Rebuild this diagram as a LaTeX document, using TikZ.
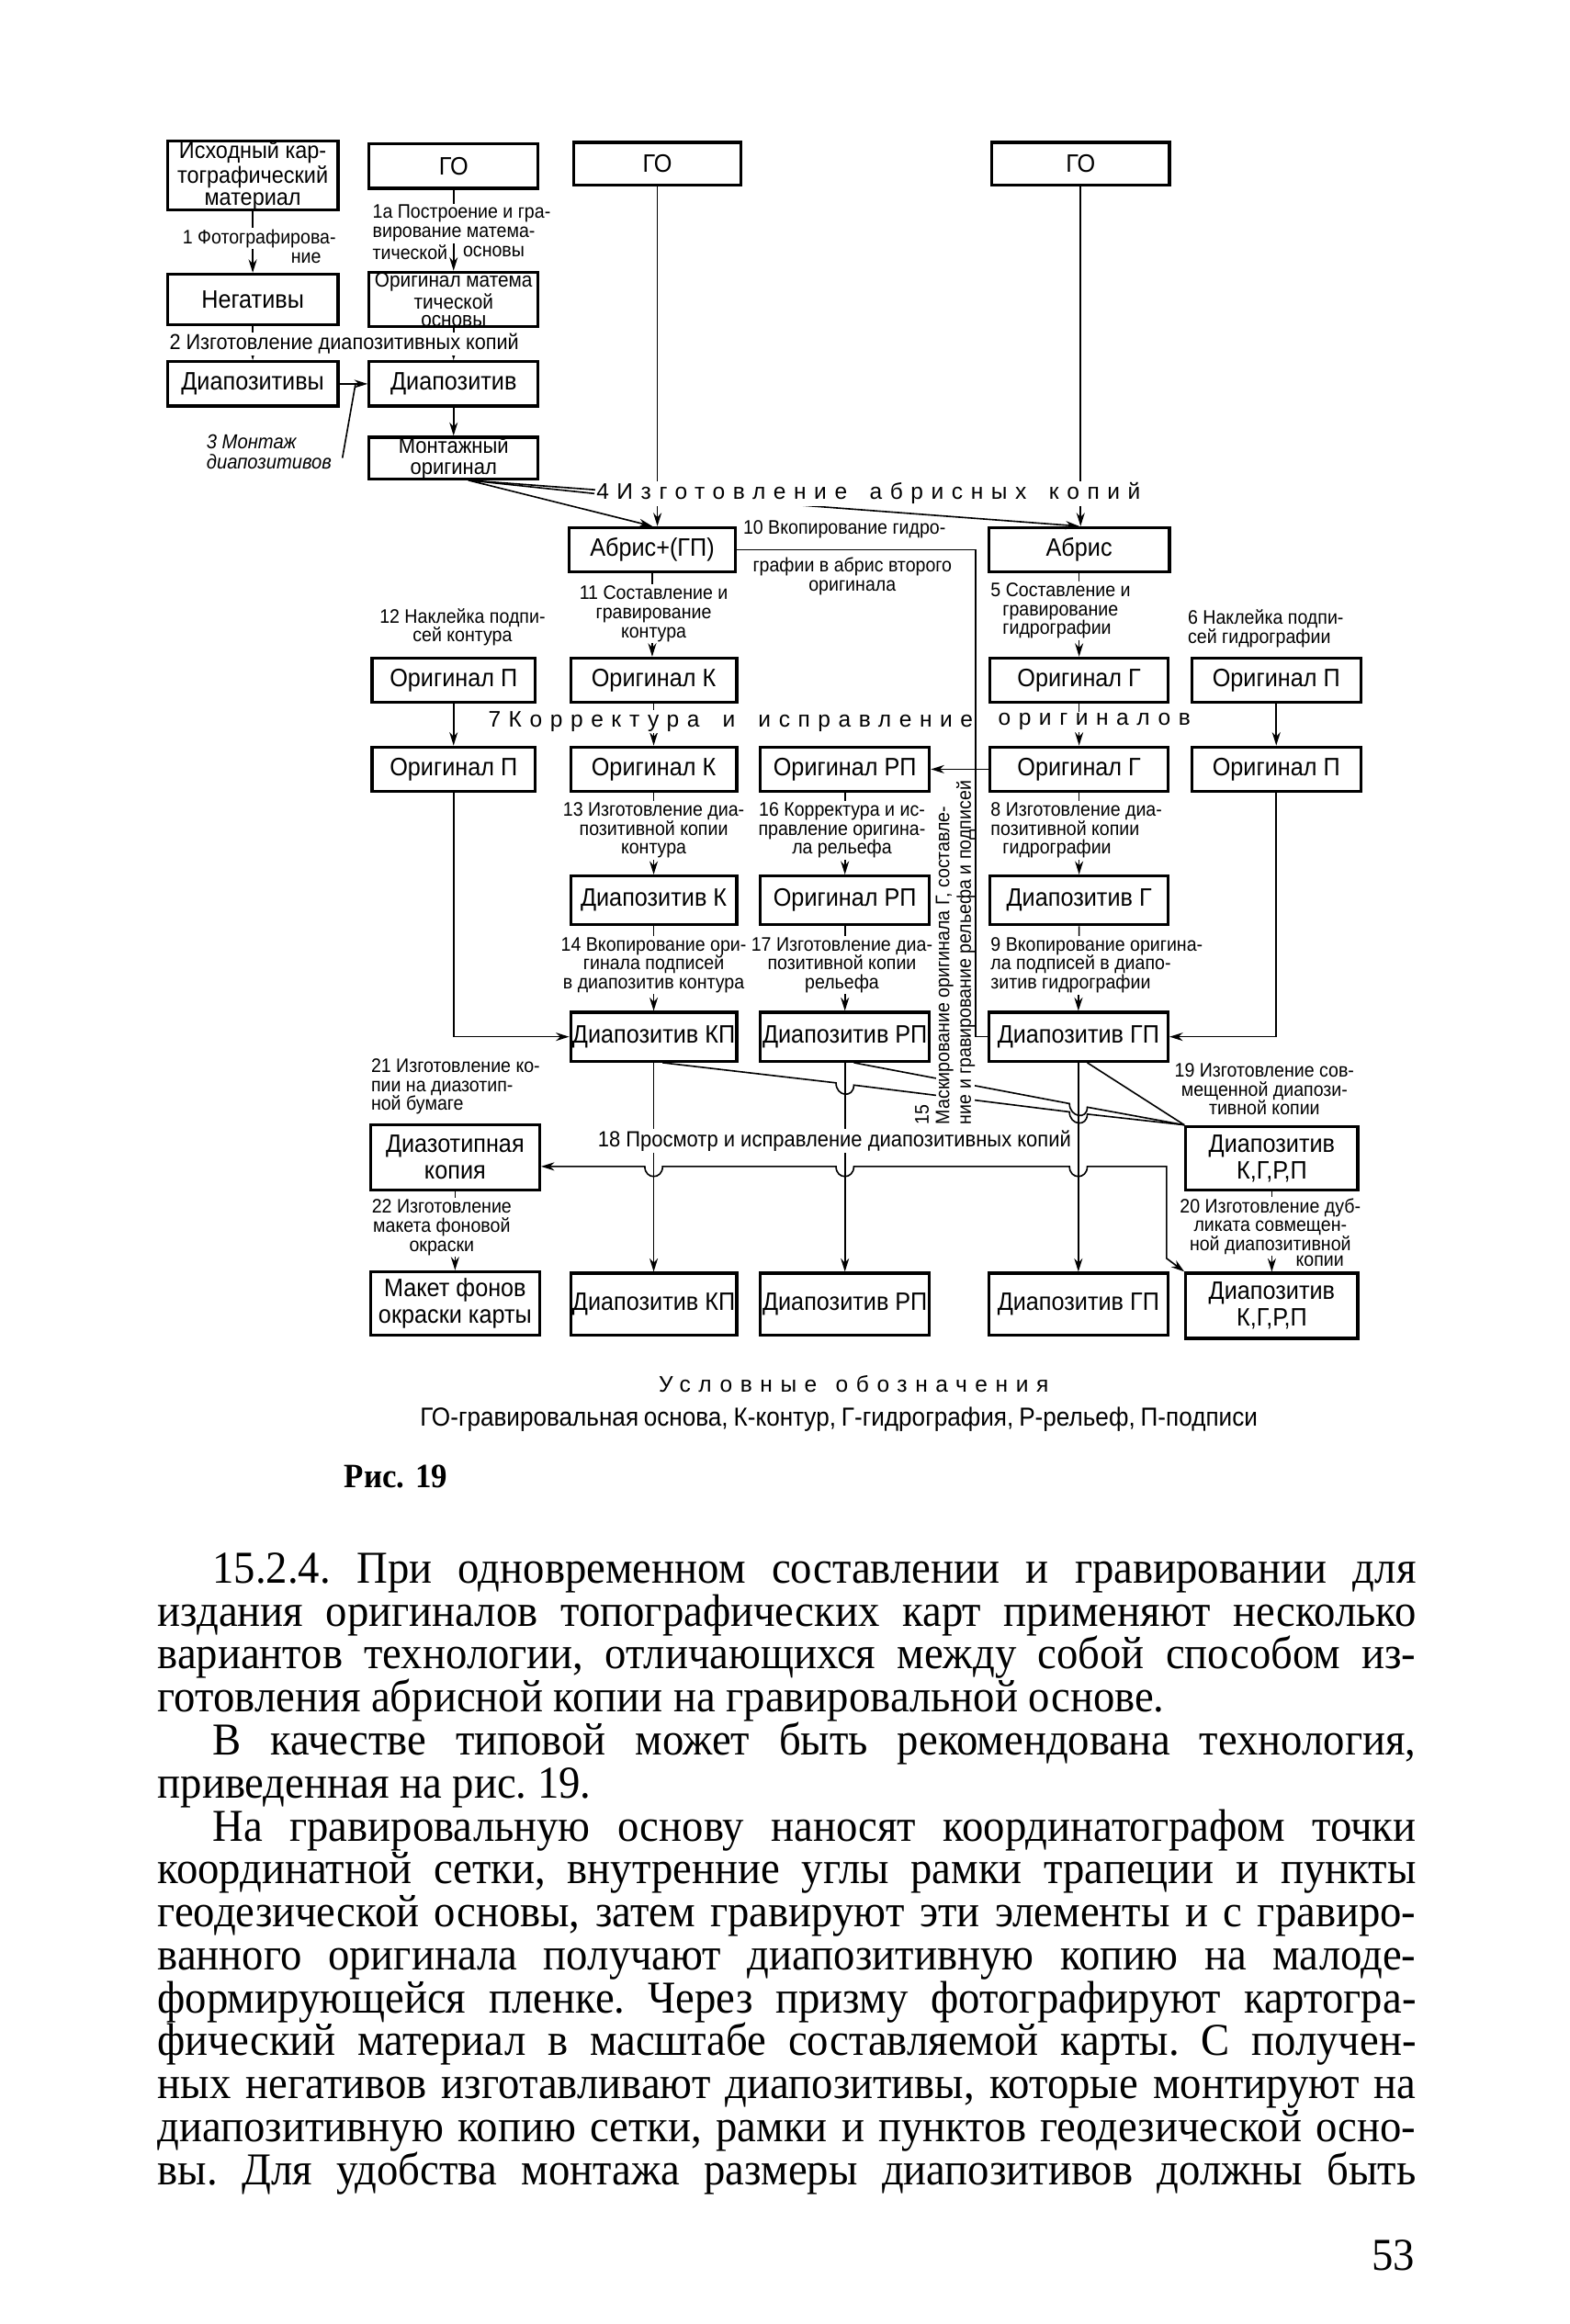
\documentclass[tikz,border=0pt]{standalone}
\usepackage{fontspec}
\setmainfont{Liberation Serif}
\newfontfamily\dgf[FakeStretch=0.92]{Liberation Sans}
\newfontfamily\spf[LetterSpace=35]{Liberation Sans}
\newfontfamily\bdf[FakeStretch=0.94]{Liberation Serif}
\usetikzlibrary{arrows.meta,calc}
\tikzset{
  box/.style={draw, line width=1pt, inner sep=0pt, align=center, font=\dgf\fontsize{8.5}{9}\selectfont},
  lab/.style={inner sep=0.5pt, fill=white, font=\dgf\fontsize{6.6}{6.4}\selectfont},
  sp/.style={inner sep=0.5pt, fill=white, font=\spf\fontsize{7.6}{8}\selectfont},
  con/.style={line width=0.5pt},
  arr/.style={con, -{Stealth[length=4.5pt,width=2.8pt]}},
  dbl/.style={con, {Stealth[length=4.5pt,width=2.8pt]}-{Stealth[length=4.5pt,width=2.8pt]}},
  body/.style={inner sep=0pt, font=\bdf\frenchspacing\fontsize{15.4}{14.5}\selectfont},
}
\newcommand\bx[6][]{\node[box,#1,minimum width={(#5-#3)*0.5pt},minimum height={(#6-#4)*0.5pt}] (#2) at ({(#3+#5)/2},{(#4+#6)/2})}
\newcommand\jl[5]{\node[body, anchor=base west] (#1) at (#2,#3) {\makebox[#4pt][s]{#5}};}
\begin{document}
\begin{tikzpicture}[x=0.5pt,y=-0.5pt]
\useasboundingbox (0,0) rectangle (1059,1568);
% ---------- boxes ----------
\bx[font=\dgf\fontsize{7.9}{7.3}\selectfont]{src}{113}{96}{228}{141}{Исходный кар-\\тографический\\материал};
\bx{go1}{249}{97}{363}{127}{ГО};
\bx{go2}{387}{96}{500}{125}{ГО};
\bx{go3}{669}{96}{789}{125}{ГО};
\bx{neg}{113}{185}{228}{219}{Негативы};
\bx[font=\dgf\fontsize{7}{5.8}\selectfont]{omo}{249}{185}{363}{219}{Оригинал матема\\тической\\основы};
\bx{dps}{113}{244}{228}{274}{Диапозитивы};
\bx{dp}{249}{244}{363}{274}{Диапозитив};
\bx[font=\dgf\fontsize{7.4}{7}\selectfont]{mo}{249}{295}{363}{323}{Монтажный\\оригинал};
\bx{ab1}{384}{356}{496}{386}{Абрис+(ГП)};
\bx{ab2}{667}{356}{789}{386}{Абрис};
\bx{opl1}{251}{444}{361}{474}{Оригинал П};
\bx{ok1}{385}{444}{497}{474}{Оригинал К};
\bx{og1}{668}{444}{788}{474}{Оригинал Г};
\bx{opr1}{804}{444}{918}{474}{Оригинал П};
\bx{opl2}{251}{504}{361}{534}{Оригинал П};
\bx{ok2}{385}{504}{497}{534}{Оригинал К};
\bx{orp2}{513}{504}{627}{534}{Оригинал РП};
\bx{og2}{668}{504}{788}{534}{Оригинал Г};
\bx{opr2}{804}{504}{918}{534}{Оригинал П};
\bx{dk}{385}{591}{497}{624}{Диапозитив К};
\bx{orp3}{513}{591}{627}{624}{Оригинал РП};
\bx{dg}{668}{591}{788}{624}{Диапозитив Г};
\bx{dkp}{385}{683}{497}{716}{Диапозитив КП};
\bx{drp}{513}{683}{627}{716}{Диапозитив РП};
\bx{dgp}{667}{683}{788}{716}{Диапозитив ГП};
\bx{dz}{250}{759}{364}{803}{Диазотипная\\копия};
\bx{kg1}{800}{760}{916}{803}{Диапозитив\\К,Г,Р,П};
\bx{mk}{250}{858}{364}{901}{Макет фонов\\окраски карты};
\bx{dkp2}{385}{859}{497}{901}{Диапозитив КП};
\bx{drp2}{513}{859}{627}{901}{Диапозитив РП};
\bx{dgp2}{667}{859}{788}{901}{Диапозитив ГП};
\bx{kg2}{800}{859}{916}{903}{Диапозитив\\К,Г,Р,П};
% ---------- connectors ----------
\draw[arr] (src.south) -- (neg.north);
\draw[arr] (go1.south) -- (omo.north);
\draw[arr] (neg.south) -- (dps.north);
\draw[arr] (omo.south) -- (dp.north);
\draw[arr] (dps.east) -- (dp.west);
\coordinate (j3) at ($(dps.east)!0.57!(dp.west)$);
\coordinate (m3) at (231,309);
\draw[con] (m3) -- (j3);
\draw[arr] (dp.south) -- (mo.north);
\coordinate (mos) at ($(mo.south)+(10,0)$);
\coordinate (l4w) at (401,333);
\draw[con] (mos) -- (l4w);
\draw[arr] (mos) -- (ab1.north);
\draw[arr] (mos) -- (ab2.north);
\draw[arr] (go2.south) -- (go2.south |- ab1.north);
\draw[arr] (go3.south) -- (go3.south |- ab2.north);
\draw[arr] (ab1.south) -- (ab1.south |- ok1.north);
\draw[arr] (ab2.south) -- (ab2.south |- og1.north);
\draw[con] (ab1.east) -| ($(dgp.west)+(-8,0)$) -- (dgp.west);
\draw[arr] (og2.west) -- (orp2.east);
\draw[arr] (opl1.south) -- (opl2.north);
\draw[arr] (ok1.south) -- (ok2.north);
\draw[arr] (og1.south) -- (og2.north);
\draw[arr] (opr1.south) -- (opr2.north);
\draw[arr] (ok2.south) -- (dk.north);
\draw[arr] (orp2.south) -- (orp3.north);
\draw[arr] (og2.south) -- (dg.north);
\draw[arr] (dk.south) -- (dkp.north);
\draw[arr] (orp3.south) -- (drp.north);
\draw[arr] (dg.south) -- (dgp.north);
\draw[arr] (opl2.south) |- (dkp.west);
\draw[arr] (opr2.south) |- (dgp.east);
\draw[arr] (dkp.south) -- (dkp2.north);
\draw[arr] (drp.south) -- (drp2.north);
\draw[arr] (dgp.south) -- (dgp2.north);
\draw[arr] (kg1.south) -- (kg2.north);
\draw[arr] (dz.south) -- (mk.north);
% lines of step 19 with hops
\draw[con] ($(dkp.south)+(6,0)$) -- (564,730.6) .. controls (564,740) and (576,741.1) .. (576,732.1)
  -- (721.5,750.2) .. controls (721.5,759.2) and (733.5,760.7) .. (733.5,751.7) -- (kg1.north west);
\draw[con] ($(drp.south)+(6,0)$) -- (721.5,744.6) .. controls (721.5,753.6) and (733.5,756) .. (733.5,747) -- (kg1.north west);
\draw[con] ($(dgp.south)+(6,0)$) -- (kg1.north west);
% line of step 18 with hops
\coordinate (h18) at (787,787);
\draw[dbl] (dz.east |- h18) -- (435,787) .. controls (435,796) and (447,796) .. (447,787)
  -- (564,787) .. controls (564,796) and (576,796) .. (576,787)
  -- (721.5,787) .. controls (721.5,796) and (733.5,796) .. (733.5,787)
  -- (h18) -- (787,849) -- (kg2.north west);
% ---------- labels ----------
\node[lab, anchor=north west, rotate=90, inner sep=0pt] (l15n) at (617,759) {15};
\node[lab, anchor=north west, align=left, rotate=90, inner sep=0pt, font=\dgf\fontsize{6.6}{6}\selectfont] (l15) at (631,759) {Маскирование оригинала Г, составле-\\ние и гравирование рельефа и подписей};
\node[lab, anchor=east] (l1a) at (228,161) {1 Фотографирова-};
\node[lab, anchor=east] (l1b) at (218,174) {ние};
\node[lab, anchor=north west, align=left] (l1c) at (250,137) {1а Построение и гра-\\вирование матема-};
\node[lab, anchor=west] (l1d) at (250,170) {тической};
\node[lab, anchor=west] (l1e) at (311,170) {основы};
\node[lab, anchor=west, font=\dgf\fontsize{7.3}{7}\selectfont] (l2) at (113,232) {2 Изготовление диапозитивных копий};
\node[lab, anchor=north west, align=left, font=\dgf\itshape\fontsize{6.8}{6.6}\selectfont] (l3) at (138,292) {3 Монтаж\\диапозитивов};
\node[sp, anchor=west] (l4) at (l4w) {\makebox[183.5pt][s]{4Изготовление абрисных копий}};
\node[lab, anchor=west] (l10a) at (500,357) {10 Вкопирование гидро-};
\node[lab, anchor=north, align=center] (l10b) at (575,375) {графии в абрис второго\\оригинала};
\node[lab, anchor=north, align=center] (l11) at (441,394) {11 Составление и\\гравирование\\контура};
\node[lab, anchor=north, align=center] (l12) at (312,409) {12 Наклейка подпи-\\сей контура};
\node[lab, anchor=north west, align=left] (l5) at (667,392) {5 Составление и\\\hspace*{4pt}гравирование\\\hspace*{4pt}гидрографии};
\node[lab, anchor=north west, align=left] (l6) at (800,410) {6 Наклейка подпи-\\сей гидрографии};
\node[sp, anchor=west] (l7a) at (328,487) {\makebox[163.5pt][s]{7Корректура и исправление}};
\node[sp, anchor=west] (l7b) at (672,487) {оригиналов};
\node[lab, anchor=north, align=center] (l13) at (441,540) {13 Изготовление диа-\\позитивной копии\\контура};
\node[lab, anchor=north, align=center] (l16) at (568,540) {16 Корректура и ис-\\правление оригина-\\ла рельефа};
\node[lab, anchor=north west, align=left] (l8) at (667,540) {8 Изготовление диа-\\позитивной копии\\\hspace*{4pt}гидрографии};
\node[lab, anchor=north, align=center] (l14) at (441,631) {14 Вкопирование ори-\\гинала подписей\\в диапозитив контура};
\node[lab, anchor=north, align=center] (l17) at (568,631) {17 Изготовление диа-\\позитивной копии\\рельефа};
\node[lab, anchor=north west, align=left] (l9) at (667,631) {9 Вкопирование оригина-\\ла подписей в диапо-\\зитив гидрографии};
\node[lab, anchor=north, align=center] (l19) at (853,716) {19 Изготовление сов-\\мещенной диапози-\\тивной копии};
\node[lab, anchor=west, font=\dgf\fontsize{7.4}{7}\selectfont] (l18) at (402,770) {18 Просмотр и исправление диапозитивных копий};
\node[lab, anchor=north west, align=left] (l21) at (249,713) {21 Изготовление ко-\\пии на диазотип-\\ной бумаге};
\node[lab, anchor=north, align=center] (l22) at (298,808) {22 Изготовление\\макета фоновой\\окраски};
\node[lab, anchor=north, align=center] (l20a) at (857,807) {20 Изготовление дуб-\\ликата совмещен-\\ной диапозитивной};
\node[lab, anchor=east] (l20b) at (908,851) {копии};
% ---------- legend and caption ----------
\node[sp, anchor=base west] (leg1) at (443,939) {\makebox[131.5pt][s]{Условные обозначения}};
\node[inner sep=0pt, anchor=base west, font=\dgf\fontsize{8.8}{9}\selectfont] (leg2) at (283,962) {\makebox[282.5pt][s]{ГО-гравировальная основа, К-контур, Г-гидрография, Р-рельеф, П-подписи}};
\node[inner sep=0pt, anchor=base west, font=\bdf\bfseries\fontsize{11.5}{12}\selectfont] (fig) at (232,1004) {Рис. 19};
% ---------- body text ----------
\jl{t1}{143}{1068}{406}{15.2.4. При одновременном составлении и гравировании для}
\jl{t2}{106}{1097}{424.5}{издания оригиналов топографических карт применяют несколько}
\jl{t3}{106}{1126}{424.5}{вариантов технологии, отличающихся между собой способом из-}
\node[body, anchor=base west] (t4) at (106,1155) {готовления абрисной копии на гравировальной основе.};
\jl{t5}{143}{1184}{406}{В качестве типовой может быть рекомендована технология,}
\node[body, anchor=base west] (t6) at (106,1213) {приведенная на рис. 19.};
\jl{t7}{143}{1242}{406}{На гравировальную основу наносят координатографом точки}
\jl{t8}{106}{1271}{424.5}{координатной сетки, внутренние углы рамки трапеции и пункты}
\jl{t9}{106}{1300}{424.5}{геодезической основы, затем гравируют эти элементы и с гравиро-}
\jl{t10}{106}{1329}{424.5}{ванного оригинала получают диапозитивную копию на малоде-}
\jl{t11}{106}{1358}{424.5}{формирующейся пленке. Через призму фотографируют картогра-}
\jl{t12}{106}{1387}{424.5}{фический материал в масштабе составляемой карты. С получен-}
\jl{t13}{106}{1416}{424.5}{ных негативов изготавливают диапозитивы, которые монтируют на}
\jl{t14}{106}{1445}{424.5}{диапозитивную копию сетки, рамки и пунктов геодезической осно-}
\jl{t15}{106}{1474}{424.5}{вы. Для удобства монтажа размеры диапозитивов должны быть}
\node[body, anchor=base east] (pg) at (955,1532) {53};
\end{tikzpicture}
\end{document}
